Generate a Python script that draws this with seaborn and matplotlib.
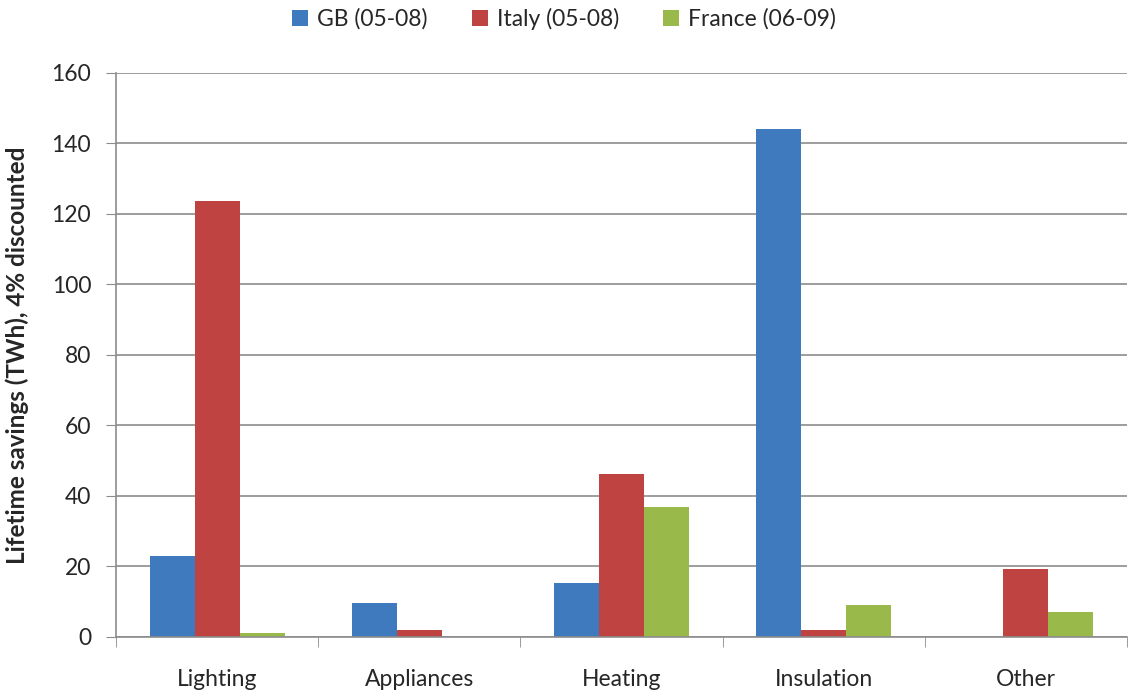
import numpy as np
import pandas as pd
import matplotlib
matplotlib.use("Agg")
import matplotlib.pyplot as plt
from matplotlib.ticker import FixedLocator, MultipleLocator
import seaborn as sns

# data
categories = ["Lighting", "Appliances", "Heating", "Insulation", "Other"]
series = ["GB (05-08)", "Italy (05-08)", "France (06-09)"]
gb = [23.0, 9.6, 15.3, 144.0, 0.0]
italy = [123.6, 2.0, 46.2, 1.9, 19.3]
france = [1.2, 0.0, 36.9, 9.2, 7.0]
colors = ["#3E7ABD", "#BF4340", "#99BA4B"]

df = pd.DataFrame({
    "category": categories * 3,
    "series": [series[0]] * 5 + [series[1]] * 5 + [series[2]] * 5,
    "value": gb + italy + france,
})

sns.set_style("white")
plt.rcParams["font.family"] = ["Lato", "DejaVu Sans"]

fig = plt.figure(figsize=(11.28, 6.95), dpi=100)
ax = fig.add_axes([0.103, 0.0835, 0.896, 0.8115])

sns.barplot(data=df, x="category", y="value", hue="series", palette=colors,
            width=0.667, saturation=1, ax=ax, edgecolor="none", legend=True)

ax.set_ylim(0, 160)
ax.set_xlim(-0.5, 4.5)
ax.yaxis.set_major_locator(MultipleLocator(20))
ax.grid(axis="y", color="#8C8C8C", linewidth=1.2)
ax.set_axisbelow(True)

for s in ["top", "right"]:
    ax.spines[s].set_visible(False)
for s in ["left", "bottom"]:
    ax.spines[s].set_color("#8C8C8C")
    ax.spines[s].set_linewidth(1.2)

ax.tick_params(axis="y", length=7, color="#8C8C8C", labelsize=16.5, pad=11, left=True)
ax.tick_params(axis="x", which="major", length=0, labelsize=16.5, pad=23)
ax.xaxis.set_minor_locator(FixedLocator(np.arange(-0.5, 5.0, 1.0)))
ax.tick_params(axis="x", which="minor", length=7, color="#8C8C8C", bottom=True)

ax.set_xlabel("")
ax.set_ylabel("Lifetime savings (TWh), 4% discounted", fontsize=17.5,
              fontweight="bold", labelpad=16)

handles, labels = ax.get_legend_handles_labels()
ax.legend(handles, labels, loc="lower center", bbox_to_anchor=(0.443, 1.04),
          ncol=3, frameon=False, fontsize=16.5, handlelength=0.7, handleheight=0.7,
          handletextpad=0.4, columnspacing=1.9)

fig.savefig("out.png", dpi=100)
